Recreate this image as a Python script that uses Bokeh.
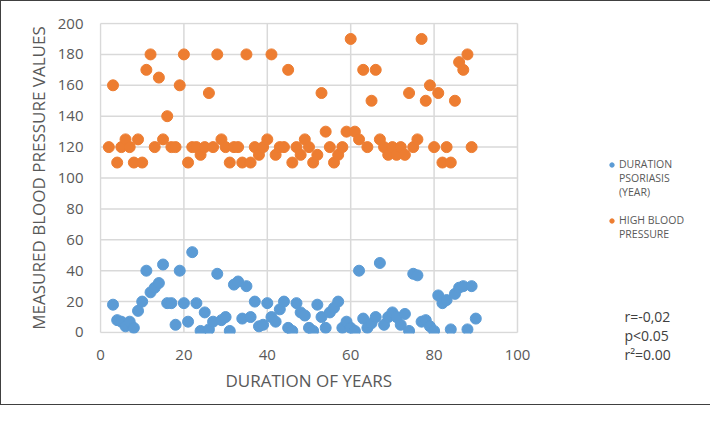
from bokeh.plotting import figure
from bokeh.models import Legend, LegendItem, Label, FixedTicker, Title
from bokeh.embed import file_html
from bokeh.resources import INLINE

# Duration of psoriasis (years) - blue series
psoriasis_x = list(range(3, 91))
psoriasis_y = [18, 8, 7, 4, 7, 3, 14, 20, 40, 26, 29, 32, 44, 19, 19, 5, 40, 19, 7, 52,
               19, 1, 13, 2, 7, 38, 8, 10, 1, 31, 33, 9, 30, 10, 20, 4, 5, 19, 10, 7,
               15, 20, 3, 1, 19, 13, 11, 3, 1, 18, 10, 3, 13, 16, 20, 3, 7, 3, 1, 40,
               9, 3, 6, 10, 45, 5, 10, 13, 10, 5, 12, 1, 38, 37, 7, 8, 4, 1, 24, 19,
               21, 2, 25, 29, 30, 2, 30, 9]

# High blood pressure - orange series
bp_x = list(range(2, 90))
bp_y = [120, 160, 110, 120, 125, 120, 110, 125, 110, 170, 180, 120, 165, 125, 140, 120, 120, 160, 180, 110,
        120, 120, 115, 120, 155, 120, 180, 125, 120, 110, 120, 120, 110, 180, 110, 120, 115, 120, 125, 180,
        115, 120, 120, 170, 110, 120, 115, 125, 120, 110, 115, 155, 130, 120, 110, 115, 120, 130, 190, 130,
        125, 170, 120, 150, 170, 125, 120, 115, 120, 115, 120, 115, 155, 120, 125, 190, 150, 160, 120, 155,
        110, 120, 110, 150, 175, 170, 180, 120]

x_ticks = [0, 20, 40, 60, 80, 100]
y_ticks = [0, 20, 40, 60, 80, 100, 120, 140, 160, 180, 200]

series_names = [["DURATION", "PSORIASIS", "(YEAR)"], ["HIGH BLOOD", "PRESSURE"]]
stats_text = ["r=-0,02", "p<0.05", "r\u00b2=0.00"]
x_title = "DURATION OF YEARS"
y_title = "MEASURED BLOOD PRESSURE VALUES"

BLUE = "#5B9BD5"
ORANGE = "#ED7D31"
GREY = "#595959"
GRID = "#D9D9D9"
FONT = "Open Sans"
PAD = "\u00a0"  # blank line so that the legend marker sits beside the first text line

# the frame extends to the right so that the legend can live inside it;
# the plotting area itself (0..100 x 0..200) is outlined by the grid segments below
p = figure(frame_width=586, frame_height=311, x_range=(-0.24, 140.29), y_range=(-0.65, 200.65),
           output_backend="svg", toolbar_location=None,
           min_border_left=98, min_border_right=8, min_border_top=21, min_border_bottom=71)
p.styles = {"border": "1px solid #404040"}
p.background_fill_color = "white"
p.border_fill_color = "white"
p.outline_line_color = None
p.xgrid.visible = False
p.ygrid.visible = False

# grid lines of the plotting area, from the tick arrays
nx, ny = len(x_ticks), len(y_ticks)
p.segment(x0=x_ticks, y0=[y_ticks[0]] * nx, x1=x_ticks, y1=[y_ticks[-1]] * nx,
          line_color=GRID, line_width=1.5, level="underlay")
p.segment(x0=[x_ticks[0]] * ny, y0=y_ticks, x1=[x_ticks[-1]] * ny, y1=y_ticks,
          line_color=GRID, line_width=1.5, level="underlay")

r1 = p.scatter(psoriasis_x, psoriasis_y, size=11, color=BLUE, line_color=BLUE)
r2 = p.scatter(bp_x, bp_y, size=11, color=ORANGE, line_color=ORANGE)

for ax in (p.xaxis[0], p.yaxis[0]):
    ax.axis_line_color = None
    ax.major_tick_line_color = None
    ax.minor_tick_line_color = None
    ax.major_label_text_font = FONT
    ax.major_label_text_font_size = "15px"
    ax.major_label_text_color = GREY
    ax.axis_label_text_font = FONT
    ax.axis_label_text_font_size = "17px"
    ax.axis_label_text_font_style = "normal"
    ax.axis_label_text_color = GREY

p.xaxis.ticker = FixedTicker(ticks=x_ticks)
p.yaxis.ticker = FixedTicker(ticks=y_ticks)
p.yaxis.axis_label = y_title
p.xaxis.major_label_standoff = 10
p.yaxis.major_label_standoff = 10
p.yaxis.axis_label_standoff = 5

xt = Title(text=x_title, align="left", offset=126, standoff=8,
           text_font=FONT, text_font_size="17px", text_font_style="normal", text_color=GREY)
p.add_layout(xt, "below")

label1 = "\n".join([PAD, PAD] + series_names[0])
label2 = "\n".join([PAD] + series_names[1])
legend = Legend(items=[LegendItem(label=label1, renderers=[r1]),
                       LegendItem(label=label2, renderers=[r2])],
                location=(507, 92), padding=0, margin=0, spacing=0,
                glyph_width=11, glyph_height=11, label_standoff=2,
                label_text_font=FONT, label_text_font_size="10.5px",
                label_text_color=GREY, label_text_line_height=1.5,
                border_line_color=None, background_fill_alpha=0)
p.add_layout(legend, "center")

# statistics sit partly below the plotting area, so they go in the right-hand panel
stats = Label(x=-61, y=27, x_units="screen", y_units="screen", text="\n".join(stats_text),
              text_font=FONT, text_font_size="14px", text_color="#404040",
              text_baseline="top", text_align="left", text_line_height=1.0)
p.add_layout(stats, "right")

open("out.html", "w").write(file_html(p, INLINE))
